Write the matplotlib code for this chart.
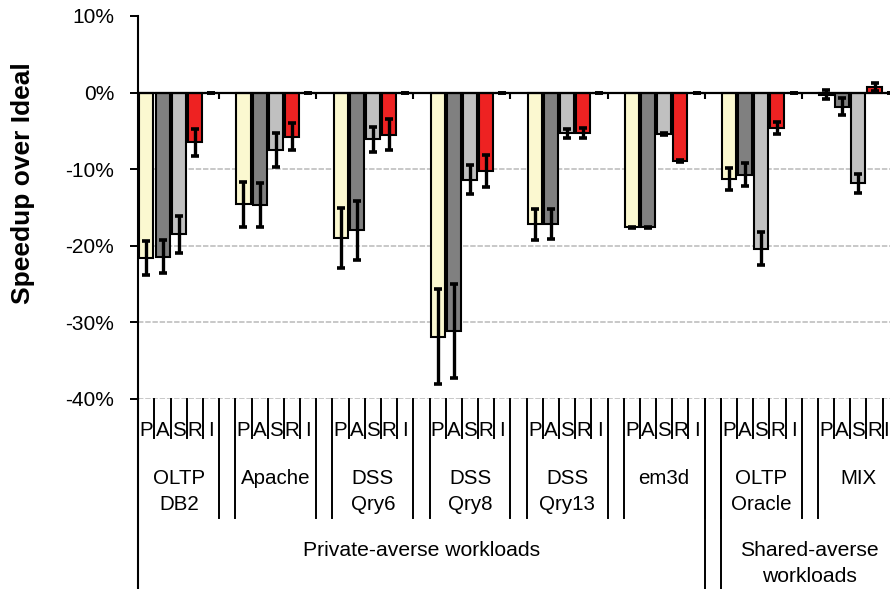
import matplotlib
matplotlib.use("Agg")
import matplotlib.pyplot as plt
from matplotlib.lines import Line2D
from matplotlib.ticker import FuncFormatter
from matplotlib.transforms import blended_transform_factory

plt.rcParams['font.family'] = ['Liberation Sans', 'DejaVu Sans']

# ---- data -------------------------------------------------------------
workloads = ["OLTP\nDB2", "Apache", "DSS\nQry6", "DSS\nQry8", "DSS\nQry13",
             "em3d", "OLTP\nOracle", "MIX"]
designs = ["P", "A", "S", "R", "I"]
classes = ["Private-averse workloads", "Shared-averse\nworkloads"]
class_sizes = [6, 2]

speedup_P = [-21.6, -14.6, -19.0, -31.9, -17.2, -17.6, -11.3, -0.25]
speedup_A = [-21.4, -14.7, -18.0, -31.1, -17.1, -17.6, -10.7, -1.85]
speedup_S = [-18.5, -7.5, -6.1, -11.4, -5.3, -5.4, -20.4, -11.85]
speedup_R = [-6.5, -5.75, -5.5, -10.2, -5.3, -8.9, -4.6, 0.75]
speedup_I = [0, 0, 0, 0, 0, 0, 0, 0]

err_P = [2.2, 2.9, 3.9, 6.2, 2.0, 0.1, 1.45, 0.6]
err_A = [2.2, 2.85, 3.9, 6.1, 1.95, 0.1, 1.45, 1.1]
err_S = [2.4, 2.2, 1.6, 1.9, 0.6, 0.1, 2.15, 1.2]
err_R = [1.8, 1.8, 2.0, 2.1, 0.65, 0.1, 0.8, 0.5]
err_I = [0, 0, 0, 0, 0, 0, 0, 0]

y_ticks = [-40, -30, -20, -10, 0, 10]

series = [speedup_P, speedup_A, speedup_S, speedup_R, speedup_I]
errors = [err_P, err_A, err_S, err_R, err_I]
colors = ["#FBF8D0", "#808080", "#C0C0C0", "#EE2222", "#FFFFFF"]

# ---- layout -----------------------------------------------------------
W, H = 890, 589
fig = plt.figure(figsize=(W / 100, H / 100), dpi=100)
x_left, x_right = 138.3, 898.8
y_top, y_bot = 16.0, 399.0
ax = fig.add_axes([x_left / W, 1 - y_bot / H,
                   (x_right - x_left) / W, (y_bot - y_top) / H])

group_step = len(designs) + 1          # five bars plus one blank slot
n_slots = group_step * len(workloads) - 1
ax.set_xlim(0, n_slots)
ax.set_ylim(y_ticks[0], y_ticks[-1])

for k, (vals, errs, col) in enumerate(zip(series, errors, colors)):
    xs = [g * group_step + k + 0.5 for g in range(len(workloads))]
    ax.bar(xs, vals, width=0.87, color=col, edgecolor="black", linewidth=1.5,
           zorder=2, yerr=errs,
           error_kw=dict(ecolor="black", elinewidth=2.4, capsize=2.6,
                         capthick=2.6, zorder=4))

ax.axhline(0, color="black", lw=1.6, zorder=3)
blank_slots = [g * group_step + len(designs) for g in range(len(workloads) - 1)]
ax.vlines(blank_slots, -0.9, 0, color="black", lw=1.5, zorder=3)

ax.set_yticks(y_ticks)
ax.yaxis.set_major_formatter(FuncFormatter(lambda v, p: f"{v:.0f}%"))
for v in y_ticks:
    if v < 0:
        ax.axhline(v, color="#C4C4C4", linestyle=(0, (3, 1)), linewidth=1.3,
                   zorder=0)
ax.set_xticks([])
ax.tick_params(axis="y", direction="out", length=5.8, width=1.4,
               labelsize=15, pad=11.5)
for side in ("top", "right", "bottom"):
    ax.spines[side].set_visible(False)
ax.spines["left"].set_linewidth(1.5)

# ---- multi-level category axis ---------------------------------------
trans = blended_transform_factory(ax.transData, fig.transFigure)


def fy(px):
    return 1 - px / H


def vline(x, y0, y1):
    ax.add_line(Line2D([x, x], [fy(y0), fy(y1)], transform=trans,
                       color="black", lw=1.4, clip_on=False))


# axis spine continues down through the label rows
fig.add_artist(Line2D([x_left / W, x_left / W], [0, fy(y_bot)],
                      color="black", lw=1.5))

row1_y, row2_y, row3_y = 430, 479, 551
line_gap = 25
fs = 14.8
slot_px = (x_right - x_left) / n_slots

for g, name in enumerate(workloads):
    start = g * group_step
    for k, d in enumerate(designs):
        cx = start + k + 0.5
        px = x_left + cx * slot_px
        if px + 4 > W:
            # keep the last label inside the figure edge
            fig.text((W - 1) / W, fy(row1_y), d, ha="right", va="center",
                     fontsize=fs)
        else:
            ax.text(cx, fy(row1_y), d, transform=trans,
                    ha="center", va="center", fontsize=fs, clip_on=False)
        if k > 0:
            vline(start + k, y_bot, 438)
    for j, line in enumerate(name.split("\n")):
        ax.text(start + len(designs) / 2, fy(row2_y + j * line_gap), line,
                transform=trans, ha="center", va="center", fontsize=fs)
    if g > 0:
        vline(start, y_bot, 518)
    if g < len(workloads) - 1:
        vline(start + len(designs), y_bot, 518)

pos = 0
for c, (name, size) in enumerate(zip(classes, class_sizes)):
    lo = pos * group_step
    hi = lo + size * group_step - 1
    for j, line in enumerate(name.split("\n")):
        ax.text((lo + hi) / 2, fy(row3_y + j * line_gap), line,
                transform=trans, ha="center", va="center", fontsize=15.2)
    if c > 0:
        vline(lo - 1, y_bot, H)
        vline(lo, y_bot, H)
    pos += size

fig.text(23 / W, fy(183), "Speedup over Ideal", rotation=90, fontsize=19,
         fontweight="bold", ha="center", va="center")

fig.savefig("out.png", dpi=100)
